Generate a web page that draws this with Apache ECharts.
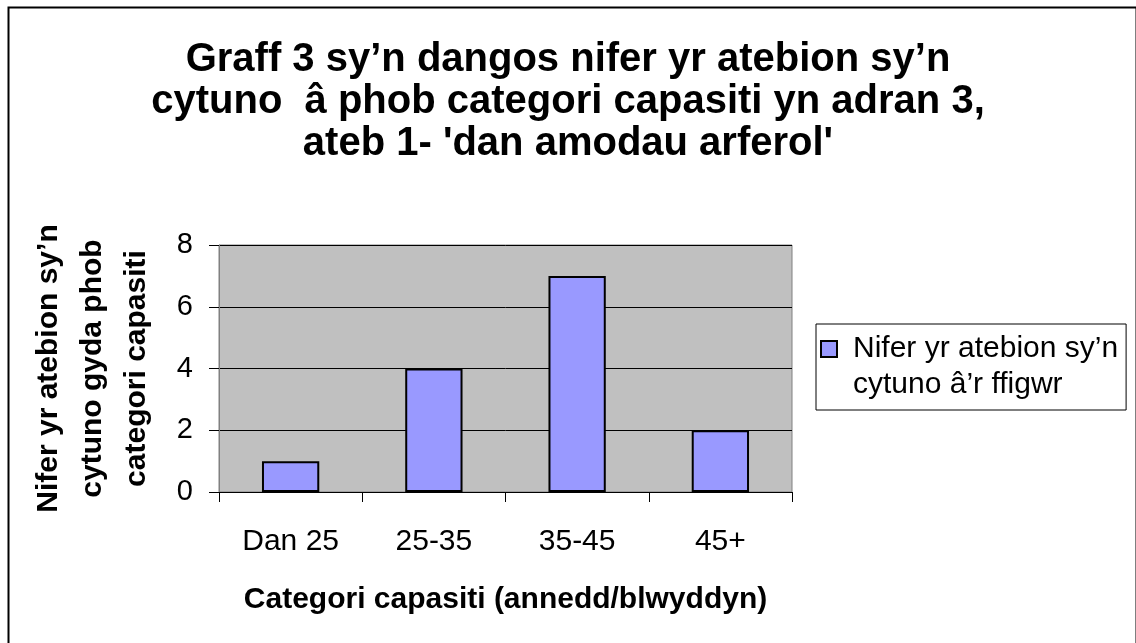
<!DOCTYPE html>
<html>
<head>
<meta charset="utf-8">
<script src="https://cdn.jsdelivr.net/npm/echarts@6/dist/echarts.min.js"></script>
<style>
  html, body { margin: 0; padding: 0; background: #fff; }
  #chart { width: 1136px; height: 643px; }
</style>
</head>
<body>
<div id="chart"></div>
<script>
// data
var categories = ['Dan 25', '25-35', '35-45', '45+'];
var values = [1, 4, 7, 2];
var seriesName = 'Nifer yr atebion sy’n\ncytuno â’r ffigwr';
var titleText = 'Graff 3 sy’n dangos nifer yr atebion sy’n\ncytuno  â phob categori capasiti yn adran 3,\nateb 1- \'dan amodau arferol\'';
var yName = 'Nifer yr atebion sy’n\ncytuno gyda phob\ncategori capasiti';
var xName = 'Categori capasiti (annedd/blwyddyn)';

var font = 'Liberation Sans, Arial, sans-serif';
var chart = echarts.init(document.getElementById('chart'));

var option = {
    backgroundColor: '#fff',
    animation: false,
    title: {
        text: titleText,
        left: 563,
        top: 34,
        textAlign: 'center',
        textStyle: {
            fontFamily: font,
            fontSize: 40,
            fontWeight: 'bold',
            color: '#000',
            lineHeight: 42
        }
    },
    //outer frame of the chart
    graphic: [{
        type: 'rect',
        left: 6,
        top: 5,
        shape: {width: 1128, height: 645},
        style: {fill: 'none', stroke: '#000', lineWidth: 2},
        silent: true
    }],
    legend: {
        left: 816,
        top: 324,
        orient: 'vertical',
        data: [seriesName],
        borderColor: '#000',
        borderWidth: 1,
        padding: [7, 8, 7, 4],
        // square on the first text line, empty room to the right of it
        icon: 'path://M0,0H16V16H0Z M27,52',
        itemWidth: 27,
        itemHeight: 52,
        textStyle: {
            fontFamily: font,
            fontSize: 30,
            color: '#000',
            lineHeight: 36
        }
    },
    grid: {
        left: 219,
        top: 245,
        right: 344,
        bottom: 151,
        show: true,
        backgroundColor: '#C0C0C0',
        borderColor: '#808080',
        borderWidth: 1
    },
    xAxis: {
        type: 'category',
        data: categories,
        name: xName,
        nameLocation: 'middle',
        nameGap: 93,
        nameTextStyle: {
            fontFamily: font,
            fontSize: 30,
            fontWeight: 'bold',
            color: '#000',
            verticalAlign: 'top'
        },
        axisLine: {lineStyle: {color: '#000', width: 1}},
        axisTick: {show: true, length: 10, lineStyle: {color: '#000'}},
        axisLabel: {
            fontFamily: font,
            fontSize: 30,
            color: '#000',
            margin: 35
        }
    },
    yAxis: {
        type: 'value',
        min: 0,
        max: 8,
        interval: 2,
        name: yName,
        nameLocation: 'middle',
        nameGap: 60,
        nameRotate: 90,
        nameTextStyle: {
            fontFamily: font,
            fontSize: 30,
            fontWeight: 'bold',
            color: '#000',
            lineHeight: 44,
            align: 'center'
        },
        axisLine: {show: true, lineStyle: {color: '#808080', width: 1}},
        axisTick: {show: true, length: 10, lineStyle: {color: '#000'}},
        axisLabel: {
            fontFamily: font,
            fontSize: 29,
            color: '#000',
            margin: 26
        },
        splitLine: {lineStyle: {color: '#000', width: 1}}
    },
    series: [{
        name: seriesName,
        type: 'bar',
        data: values,
        barCategoryGap: '60%',
        itemStyle: {
            color: '#9999FF',
            borderColor: '#000',
            borderWidth: 2
        }
    }]
};

chart.setOption(option);
</script>
</body>
</html>
